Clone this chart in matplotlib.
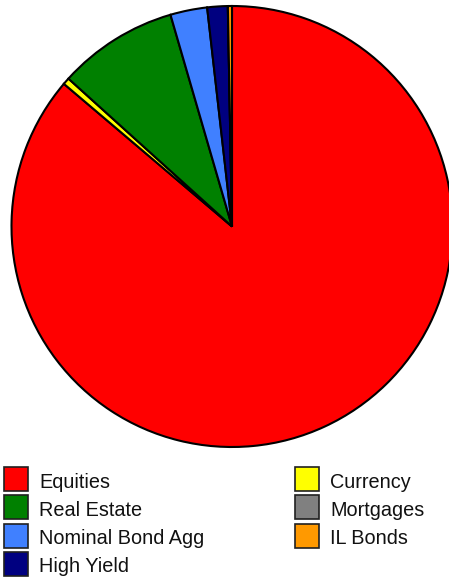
import matplotlib.pyplot as plt
from matplotlib.patches import Rectangle

plt.rcParams['font.family'] = ['Liberation Sans', 'DejaVu Sans']

# allocation shares, in drawing order (clockwise from 12 o'clock)
slice_names = ['Equities', 'Currency', 'Real Estate', 'Nominal Bond Agg',
               'High Yield', 'Mortgages', 'IL Bonds']
slice_values = [86.2, 0.5, 8.8, 2.7, 1.5, 0.0, 0.3]
slice_colors = {'Equities': '#ff0000', 'Currency': '#ffff00', 'Real Estate': '#008000',
                'Nominal Bond Agg': '#4080ff', 'High Yield': '#000080',
                'Mortgages': '#808080', 'IL Bonds': '#ff9900'}

# legend layout: two columns
legend_cols = [['Equities', 'Real Estate', 'Nominal Bond Agg', 'High Yield'],
               ['Currency', 'Mortgages', 'IL Bonds']]

W, H = 449, 579
fig = plt.figure(figsize=(W / 100, H / 100), dpi=100)

cx, cy, r = 232, 226.5, 220.5
ax = fig.add_axes([(cx - r) / W, (H - cy - r) / H, 2 * r / W, 2 * r / H])
ax.pie(slice_values, colors=[slice_colors[n] for n in slice_names],
       startangle=90, counterclock=False, radius=1,
       wedgeprops=dict(edgecolor='black', linewidth=1.5))
ax.set_xlim(-1, 1)
ax.set_ylim(-1, 1)
ax.set_aspect('auto')
ax.axis('off')

col_x = [4, 295]
row_y0, row_step, box = 467, 28.3, 24
for ci, names in enumerate(legend_cols):
    for ri, name in enumerate(names):
        top = row_y0 + ri * row_step
        fig.add_artist(Rectangle((col_x[ci] / W, (H - top - box) / H), box / W, box / H,
                                 transform=fig.transFigure, facecolor=slice_colors[name],
                                 edgecolor='#202020', linewidth=1.2))
        fig.text((col_x[ci] + 35) / W, (H - top - box / 2 - 3) / H, name,
                 fontsize=14.3, va='center', ha='left', color='#111111')

fig.savefig('out.png', dpi=100)
